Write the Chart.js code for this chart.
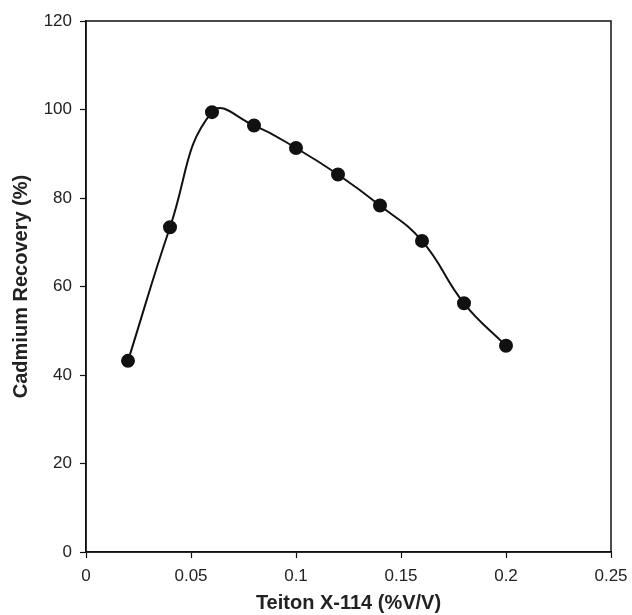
<!DOCTYPE html>
<html>
<head>
<meta charset="utf-8">
<script src="https://cdn.jsdelivr.net/npm/chart.js@4"></script>
<style>
  body { margin: 0; background: #fff; }
  #wrap { width: 632px; height: 615px; }
</style>
</head>
<body>
<div id="wrap"><canvas id="recovery-chart"></canvas></div>
<script>
// Triton concentration (%V/V) and cadmium recovery (%)
const tritonConc = [0.02, 0.04, 0.06, 0.08, 0.10, 0.12, 0.14, 0.16, 0.18, 0.20];
const recovery = [43.2, 73.4, 99.4, 96.4, 91.3, 85.3, 78.3, 70.3, 56.2, 46.6];

const xTicks = [0, 0.05, 0.1, 0.15, 0.2, 0.25];
const yTicks = [0, 20, 40, 60, 80, 100, 120];

const points = tritonConc.map((x, i) => ({ x: x, y: recovery[i] }));

// box round the plot area (top and right sides)
const frame = {
    id: 'frame',
    afterDraw(chart) {
        const a = chart.chartArea;
        const c = chart.ctx;
        c.save();
        c.strokeStyle = '#111';
        c.lineWidth = 1.5;
        c.strokeRect(a.left, a.top, a.right - a.left, a.bottom - a.top);
        c.restore();
    }
};

const font = 'Liberation Sans, Arial, sans-serif';

const ctx = document.getElementById('recovery-chart');
new Chart(ctx, {
    type: 'scatter',
    data: {
        datasets: [{
            data: points,
            showLine: true,
            tension: 0.45,
            borderColor: '#111',
            borderWidth: 2,
            backgroundColor: '#111',
            pointRadius: 6,
            pointHoverRadius: 6
        }]
    },
    options: {
        responsive: true,
        maintainAspectRatio: false,
        animation: false,
        layout: { padding: { top: 21, right: 21, left: 0, bottom: 0 } },
        plugins: {
            legend: { display: false },
            tooltip: { enabled: false }
        },
        scales: {
            x: {
                type: 'linear',
                min: 0,
                max: 0.25,
                afterBuildTicks: s => { s.ticks = xTicks.map(v => ({ value: v })); },
                afterFit: s => { s.height = 63; s.paddingLeft = 0; s.paddingRight = 0; },
                grid: { drawOnChartArea: false, tickLength: 6, tickColor: '#111', tickWidth: 1.2 },
                border: { color: '#111', width: 1.5 },
                ticks: {
                    color: '#222',
                    font: { family: font, size: 17 },
                    padding: 8,
                    maxRotation: 0,
                    callback: v => String(v)
                },
                title: {
                    display: true,
                    text: 'Teiton X-114 (%V/V)',
                    color: '#222',
                    font: { family: font, size: 20, weight: 'bold' },
                    padding: { top: 2, bottom: 0 }
                }
            },
            y: {
                min: 0,
                max: 120,
                afterBuildTicks: s => { s.ticks = yTicks.map(v => ({ value: v })); },
                afterFit: s => { s.width = 86; s.paddingTop = 0; s.paddingBottom = 0; },
                grid: { drawOnChartArea: false, tickLength: 6, tickColor: '#111', tickWidth: 1.2 },
                border: { color: '#111', width: 1.5 },
                ticks: {
                    color: '#222',
                    font: { family: font, size: 17 },
                    padding: 8
                },
                title: {
                    display: true,
                    text: 'Cadmium Recovery (%)',
                    color: '#222',
                    font: { family: font, size: 20, weight: 'bold' },
                    padding: { top: 9, bottom: 4 }
                }
            }
        }
    },
    plugins: [frame]
});
</script>
</body>
</html>
